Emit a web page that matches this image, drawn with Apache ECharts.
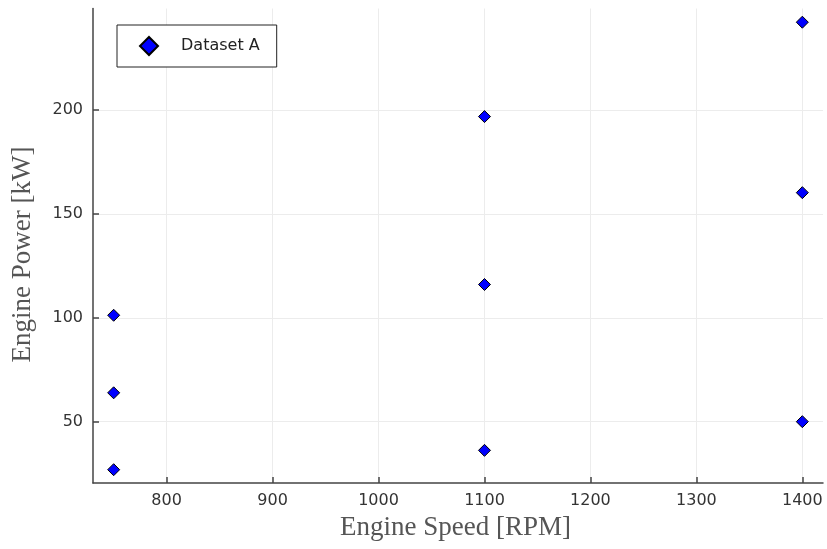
<!DOCTYPE html>
<html>
<head>
<meta charset="utf-8">
<style>
  html, body { margin: 0; padding: 0; background: #fff; }
  #chart { width: 827px; height: 549px; }
</style>
<script src="https://cdn.jsdelivr.net/npm/echarts@6/dist/echarts.min.js"></script>
</head>
<body>
<div id="chart"></div>
<script>
// Measured operating points: engine speed (RPM) vs power (kW)
const speeds = [750, 750, 750, 1100, 1100, 1100, 1400, 1400, 1400];
const powers = [26.9, 63.9, 101.2, 36.2, 116.0, 196.8, 50.0, 160.2, 242.2];
const seriesName = 'Dataset A';
const xTicks = [800, 900, 1000, 1100, 1200, 1300, 1400];
const yTicks = [50, 100, 150, 200];
const xTitle = 'Engine Speed [RPM]';
const yTitle = 'Engine Power [kW]';

const points = speeds.map((s, i) => [s, powers[i]]);

const tickFont = { fontFamily: 'DejaVu Sans', fontSize: 16, color: '#333' };
const axisLineStyle = { color: '#444', width: 1.5 };
const gridLineStyle = { color: '#ececec', width: 1 };
const plainNumber = v => String(v);

const chart = echarts.init(document.getElementById('chart'), null, { renderer: 'canvas' });
chart.setOption({
  backgroundColor: '#fff',
  animation: false,
  grid: { left: 93, right: 4, top: 8.5, bottom: 66, containLabel: false },
  xAxis: {
    type: 'value',
    min: 730.5,
    max: 1419.5,
    axisLine: { show: true, onZero: false, lineStyle: axisLineStyle },
    axisTick: { show: true, inside: true, length: 6, customValues: xTicks, lineStyle: axisLineStyle },
    axisLabel: Object.assign({ customValues: xTicks, margin: 10, formatter: plainNumber }, tickFont),
    splitLine: { show: true, lineStyle: gridLineStyle }
  },
  yAxis: {
    type: 'value',
    min: 20.5,
    max: 248.8,
    axisLine: { show: true, onZero: false, lineStyle: axisLineStyle },
    axisTick: { show: true, inside: true, length: 6, customValues: yTicks, lineStyle: axisLineStyle },
    axisLabel: Object.assign({ customValues: yTicks, margin: 10, formatter: plainNumber }, tickFont),
    splitLine: { show: true, lineStyle: gridLineStyle }
  },
  legend: {
    left: 117,
    top: 25,
    orient: 'vertical',
    backgroundColor: '#fff',
    borderColor: '#222',
    borderWidth: 1,
    borderRadius: 0,
    padding: [11, 17, 11, 22],
    itemWidth: 18,
    itemHeight: 18,
    itemGap: 0,
    icon: 'diamond',
    textStyle: { fontFamily: 'DejaVu Sans', fontSize: 16, color: '#222', padding: [0, 0, 0, 18] },
    data: [seriesName]
  },
  series: [{
    name: seriesName,
    type: 'scatter',
    symbol: 'diamond',
    symbolSize: 12,
    itemStyle: { color: '#0000ff', borderColor: '#000', borderWidth: 1, opacity: 1 },
    data: points
  }],
  graphic: [
    {
      type: 'text',
      style: {
        text: xTitle,
        x: 455.5,
        y: 528,
        align: 'center',
        verticalAlign: 'middle',
        font: '27px "Liberation Serif"',
        fill: '#555'
      }
    },
    {
      type: 'text',
      x: 23,
      y: 254.5,
      rotation: Math.PI / 2,
      style: {
        text: yTitle,
        x: 0,
        y: 0,
        align: 'center',
        verticalAlign: 'middle',
        font: '27px "Liberation Serif"',
        fill: '#555'
      }
    }
  ]
});
</script>
</body>
</html>
